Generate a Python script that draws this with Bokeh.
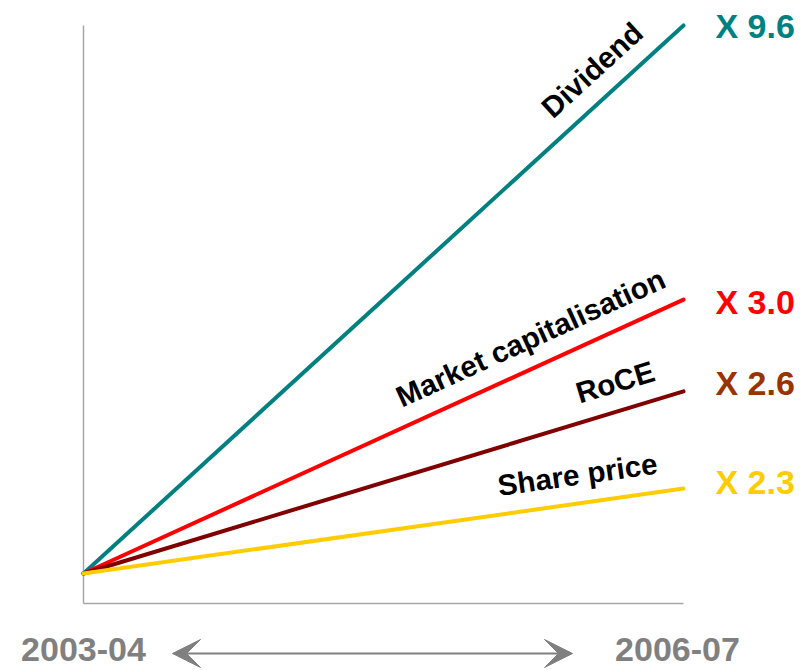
import math

from bokeh.core.properties import value
from bokeh.embed import file_html
from bokeh.models import Arrow, ColumnDataSource, Range1d, VeeHead
from bokeh.plotting import figure
from bokeh.resources import INLINE

# ---- data -------------------------------------------------------------
periods = ["2003-04", "2006-07"]
period_x = [0, 3]                      # years after 2003-04
metrics = ["Dividend", "Market capitalisation", "RoCE", "Share price"]
multiples = [9.6, 3.0, 2.6, 2.3]       # growth multiple over the period
base_level = 1.0                       # every series starts at the same index
end_levels = [19.27, 10.13, 7.07, 3.83]  # drawn index level at 2006-07
line_colors = ["#008080", "#FF0000", "#800000", "#FFCC00"]
label_colors = ["#008080", "#FF0000", "#993300", "#FFCC00"]

# ---- canvas -----------------------------------------------------------
W, H = 810, 670
x_range = Range1d(-0.415, 3.635)
y_range = Range1d(-2.2333, 20.1)
sx = W / (x_range.end - x_range.start)   # px per x unit
sy = H / (y_range.end - y_range.start)   # px per y unit

p = figure(width=W, height=H, x_range=x_range, y_range=y_range,
           output_backend="svg", toolbar_location=None,
           x_axis_type=None, y_axis_type=None, min_border=0,
           outline_line_color=None, background_fill_color="white",
           border_fill_color="white")
p.grid.visible = False

axis_color = "#A6A6A6"
x0, x1 = period_x
# frame lines
p.segment(x0=[x0, x0], y0=[0, 0], x1=[x0, x1], y1=[max(end_levels), 0],
          line_color=axis_color, line_width=1.5)

# growth lines
src = ColumnDataSource(dict(
    x0=[x0] * len(metrics), y0=[base_level] * len(metrics),
    x1=[x1] * len(metrics), y1=end_levels, color=line_colors))
p.segment(x0="x0", y0="y0", x1="x1", y1="y1", line_color="color",
          line_width=4, line_cap="round", source=src)

# series names along each line
fracs = [0.88, 0.765, 0.90, 0.83]
gap = 29
lx, ly, la = [], [], []
for lvl, f in zip(end_levels, fracs):
    dx_px = (x1 - x0) * sx
    dy_px = (lvl - base_level) * sy
    a = math.atan2(dy_px, dx_px)
    px = x0 + f * (x1 - x0) - math.sin(a) * gap / sx
    py = base_level + f * (lvl - base_level) + math.cos(a) * gap / sy
    lx.append(px)
    ly.append(py)
    la.append(a)
p.text(x=lx, y=ly, text=metrics, angle=la, text_align="center",
       text_baseline="middle", text_font=value("Liberation Sans"),
       text_font_style="bold", text_font_size="29.5px", text_color="black")

# multiples at the right end
nudge_px = [-1, -2, 8, 7]
p.text(x=[x1 + 32 / sx] * len(multiples),
       y=[lvl + n / sy for lvl, n in zip(end_levels, nudge_px)],
       text=[f"X {m:.1f}" for m in multiples], text_color=label_colors,
       text_align="left", text_baseline="middle",
       text_font=value("Liberation Sans"), text_font_style="bold",
       text_font_size="34px")

# period labels and arrow beneath
period_src = ColumnDataSource(dict(
    x=period_x, y=[(603 - 649) / sy] * 2, text=periods, dx=[0, -6]))
p.text(x="x", y="y", text="text", x_offset="dx", source=period_src,
       text_align="center", text_baseline="middle",
       text_font=value("Liberation Sans"), text_font_style="bold",
       text_font_size="34px", text_color="#808080")
arrow_y = (603 - 653) / sy
p.add_layout(Arrow(x_start=0.445, y_start=arrow_y, x_end=2.445, y_end=arrow_y,
                   line_color="#808080", line_width=2,
                   start=VeeHead(size=28, line_color="#808080", fill_color="#808080"),
                   end=VeeHead(size=28, line_color="#808080", fill_color="#808080")))

open("out.html", "w").write(file_html(p, INLINE))
